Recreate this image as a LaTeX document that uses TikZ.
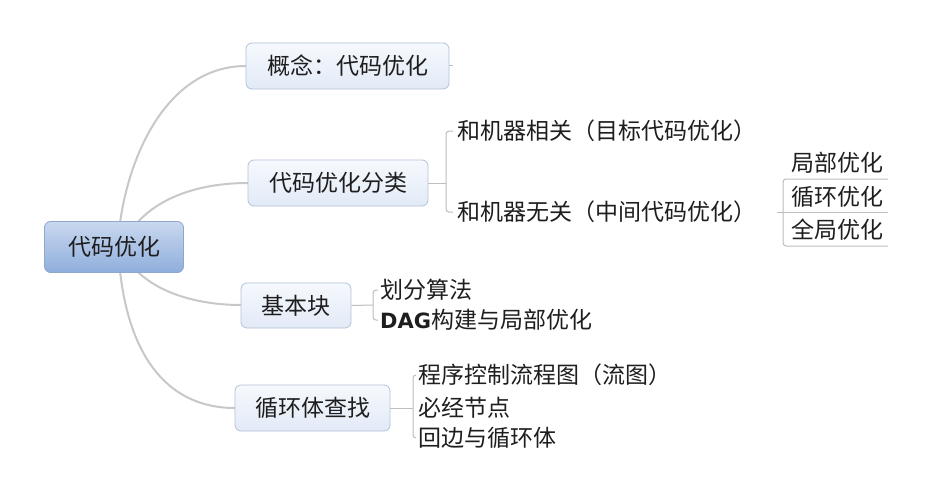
\documentclass[tikz,border=0pt]{standalone}
\usepackage{fontspec}
\newfontfamily\cjk{Noto Sans CJK SC}
\newfontfamily\dagfont{DejaVu Sans}
\definecolor{curvegray}{HTML}{C8C8C8}
\definecolor{brgray}{HTML}{BDBDBD}
\definecolor{boxborder}{HTML}{B4C2D9}
\definecolor{rootborder}{HTML}{8FA7CC}
\definecolor{txt}{HTML}{1E1E1E}
\definecolor{roottop}{HTML}{C9D8EF}
\definecolor{rootbot}{HTML}{8FAEDC}
\definecolor{topictop}{HTML}{F6F9FD}
\definecolor{topicbot}{HTML}{E2EAF7}
\begin{document}
\begin{tikzpicture}[x=1pt,y=-1pt,
  every node/.style={font=\cjk\fontsize{23}{26}\selectfont, text=txt},
  rootbox/.style={draw=rootborder, line width=0.8pt, rounded corners=6pt,
    top color=roottop, bottom color=rootbot, inner sep=0pt, minimum width=139pt, minimum height=51pt},
  topic/.style={draw=boxborder, line width=0.8pt, rounded corners=6pt,
    top color=topictop, bottom color=topicbot, inner sep=0pt, minimum height=46pt},
  leaf/.style={anchor=west, inner sep=0pt},
  curve/.style={draw=curvegray, line width=2pt},
  bracket/.style={draw=brgray, line width=1pt, rounded corners=3pt}
]
\useasboundingbox[fill=white] (0,0) rectangle (931,495);

% curves (drawn first, under boxes)
\coordinate (r1) at (120,223);
\coordinate (r2) at (137,223);
\coordinate (r3) at (137,271);
\coordinate (r4) at (120,271);
\draw[curve] (r1) .. controls (130,150) and (170,66) .. (246,66);
\draw[curve] (r2) .. controls (160,197) and (200,183) .. (248,183);
\draw[curve] (r3) .. controls (160,294) and (200,305) .. (241,305);
\draw[curve] (r4) .. controls (130,360) and (170,408) .. (235,408);

% root
\node[rootbox] (root) at (114,247) {代码优化};

% level-1 topics
\node[topic, minimum width=203pt] (n1) at (347.5,66) {概念：代码优化};
\node[topic, minimum width=180pt] (n2) at (338,183) {代码优化分类};
\node[topic, minimum width=110pt, minimum height=45pt] (n3) at (296,305.5) {基本块};
\node[topic, minimum width=155pt] (n4) at (312.5,408) {循环体查找};

\coordinate (stub) at (453,66);
\draw[bracket] (n1.east) -- (stub);

% children of n2
\node[leaf] (c21) at (457,131) {和机器相关（目标代码优化）};
\node[leaf] (c22) at (457,212) {和机器无关（中间代码优化）};
\coordinate (b2) at (446,183);
\draw[bracket] (n2.east) -- (b2);
\draw[bracket] ([xshift=-4pt]c21.west) -- (446,131) -- (446,212) -- ([xshift=-4pt]c22.west);

% grandchildren
\node[leaf] (g1) at (791,163) {局部优化};
\node[leaf] (g2) at (791,197) {循环优化};
\node[leaf] (g3) at (791,230) {全局优化};
\draw[bracket] (888,179) -- (783,179) -- (783,246) -- (888,246);
\draw[draw=brgray, line width=1pt] (777,212) -- (888,212);

% children of n3
\node[leaf] (c31) at (380,290) {划分算法};
\node[leaf] (c32) at (380,320) {{\dagfont\bfseries\fontsize{21}{24}\selectfont DAG}构建与局部优化};
\coordinate (b3) at (373,305);
\draw[bracket] (n3.east) -- (b3);
\draw[bracket] ([xshift=-2pt]c31.west) -- (373,290) -- (373,320) -- ([xshift=-2pt]c32.west);

% children of n4
\node[leaf] (c41) at (418,375) {程序控制流程图（流图）};
\node[leaf] (c42) at (418,408) {必经节点};
\node[leaf] (c43) at (418,438) {回边与循环体};
\coordinate (b4) at (413,408);
\draw[bracket] (n4.east) -- (b4);
\draw[bracket] ([xshift=-2pt]c41.west) -- (413,375) -- (413,438) -- ([xshift=-2pt]c43.west);
\end{tikzpicture}
\end{document}
